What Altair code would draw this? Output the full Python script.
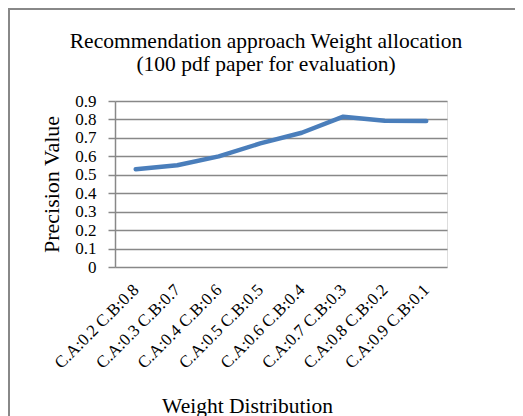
import altair as alt
import pandas as pd

categories = ["C.A:0.2 C.B:0.8", "C.A:0.3 C.B:0.7", "C.A:0.4 C.B:0.6", "C.A:0.5 C.B:0.5",
              "C.A:0.6 C.B:0.4", "C.A:0.7 C.B:0.3", "C.A:0.8 C.B:0.2", "C.A:0.9 C.B:0.1"]
precision = [0.53, 0.552, 0.60, 0.67, 0.728, 0.815, 0.793, 0.792]
y_ticks = [0, 0.1, 0.2, 0.3, 0.4, 0.5, 0.6, 0.7, 0.8, 0.9]
title_lines = ["Recommendation approach Weight allocation", "(100 pdf paper for evaluation)"]

df = pd.DataFrame({"w": categories, "p": precision})

W, H = 332, 166
PL, PT, PR, PB = 107, 93, 68, 149
FONT = "Liberation Serif"
GRID = "#888888"

line = alt.Chart(df).mark_line(color="#4A7EBB", strokeWidth=4.5, strokeCap="round",
                               strokeJoin="round").encode(
    x=alt.X("w:N", sort=categories, scale=alt.Scale(type="point", padding=0.5),
            axis=alt.Axis(title="Weight Distribution", labelAngle=-45, labelAlign="right",
                          labelBaseline="middle", labelPadding=20, domain=False, ticks=False,
                          grid=False, labelOverlap=False, labelFont=FONT, labelFontSize=17,
                          labelColor="black",
                          titleFont=FONT, titleFontSize=21.5, titleFontWeight="normal",
                          titleColor="black", titleX=132, titleY=145,
                          titleBaseline="alphabetic", titleAlign="center")),
    y=alt.Y("p:Q", scale=alt.Scale(domain=[0, 0.9], nice=False, zero=True),
            axis=alt.Axis(title="Precision Value", values=y_ticks, format="~g",
                          grid=True, gridColor=GRID, gridWidth=1.5,
                          domainColor=GRID, domainWidth=1.5, tickColor=GRID, tickWidth=1.5,
                          tickSize=7, labelPadding=12, labelOverlap=False, labelFont=FONT,
                          labelFontSize=17, labelColor="black",
                          titleFont=FONT, titleFontSize=22,
                          titleFontWeight="normal", titleColor="black", titleX=-64,
                          titleY=H / 2, titleBaseline="middle", titleAlign="center",
                          titleAngle=-90)),
)

title1 = alt.Chart(pd.DataFrame({"t": [title_lines[0]]})).mark_text(
    font=FONT, fontSize=21.5, color="black", baseline="alphabetic", align="center").encode(
    text="t:N", x=alt.value(151), y=alt.value(-53))
title2 = alt.Chart(pd.DataFrame({"t": [title_lines[1]]})).mark_text(
    font=FONT, fontSize=21.5, color="black", baseline="alphabetic", align="center").encode(
    text="t:N", x=alt.value(151), y=alt.value(-30))

left_border = alt.Chart(df).mark_rule(color=GRID, strokeWidth=1.5).encode(
    x=alt.value(-PL + 0.75), y=alt.value(-PT), y2=alt.value(H + PB))
top_border = alt.Chart(df).mark_rule(color=GRID, strokeWidth=1.5).encode(
    y=alt.value(-PT + 0.75), x=alt.value(-PL), x2=alt.value(W + PR))

chart = alt.layer(left_border, top_border, title1, title2, line).properties(
    width=W, height=H,
    autosize="none",
    padding={"left": PL, "top": PT, "right": PR, "bottom": PB},
).configure_view(stroke=None).configure(background="white")

chart.save("out.html", embed_options={"renderer": "svg", "actions": False})
